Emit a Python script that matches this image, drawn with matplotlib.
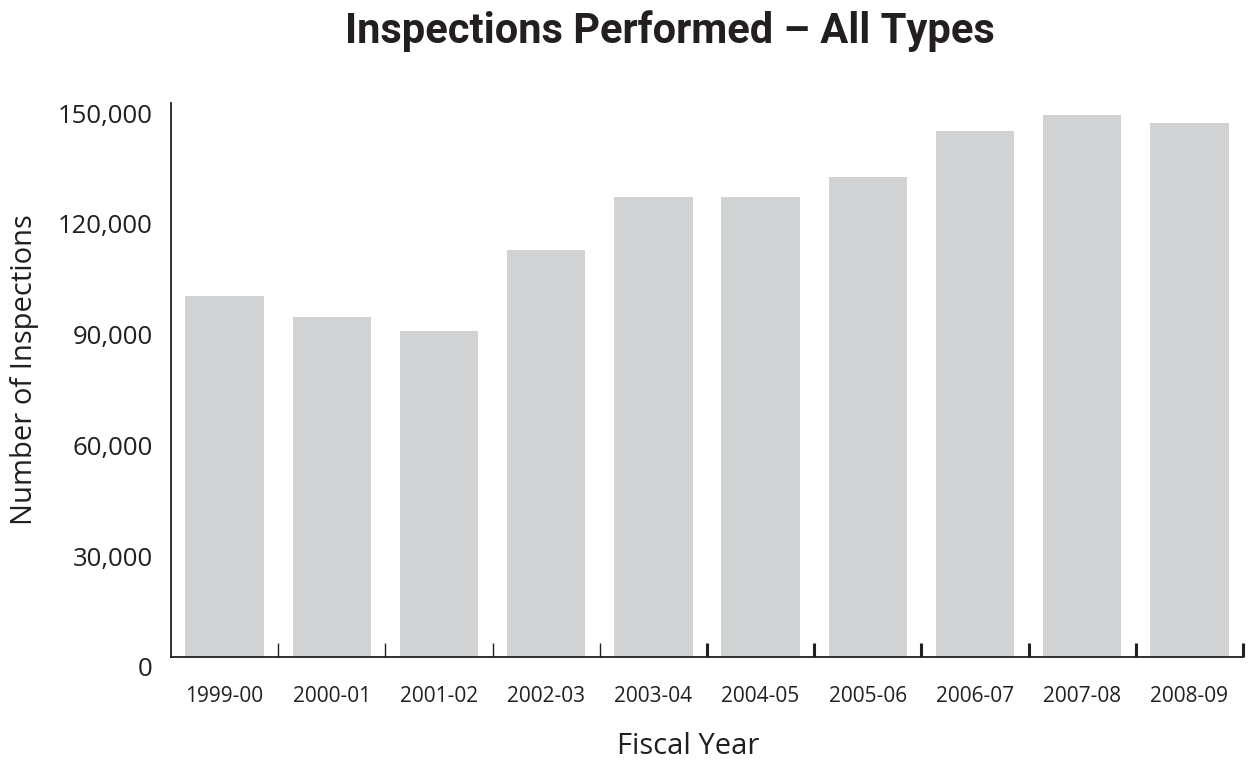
import matplotlib
matplotlib.use("Agg")
import matplotlib.pyplot as plt
import matplotlib.transforms as mtransforms
from matplotlib.ticker import FuncFormatter

years = ["1999-00", "2000-01", "2001-02", "2002-03", "2003-04",
         "2004-05", "2005-06", "2006-07", "2007-08", "2008-09"]
inspections = [97800, 92100, 88300, 110200, 124600,
               124600, 130000, 142400, 146800, 144600]
y_ticks = [0, 30000, 60000, 90000, 120000, 150000]

ink = "#231f20"
bar_color = "#d1d2d4"
body_font = ["Open Sans", "DejaVu Sans"]
title_font = ["Roboto", "DejaVu Sans"]

fig = plt.figure(figsize=(12.51, 7.63), dpi=100)
ax = fig.add_axes([171 / 1251, 106 / 763, (1243 - 171) / 1251, 554 / 763])

x = list(range(len(years)))
ax.bar(x, inspections, width=0.73, color=bar_color, zorder=2)

ax.set_xlim(-0.5, len(years) - 0.5)
ax.set_ylim(0, 150000)

for side in ("top", "right"):
    ax.spines[side].set_visible(False)
for side in ("left", "bottom"):
    ax.spines[side].set_color(ink)
    ax.spines[side].set_linewidth(1.3)

# Y axis: labels only, sitting slightly below their values
ax.set_yticks(y_ticks)
ax.yaxis.set_major_formatter(FuncFormatter(lambda v, p: f"{int(v):,}"))
ax.tick_params(axis="y", length=0, pad=13, labelsize=18.5, labelcolor=ink)
offset = mtransforms.ScaledTranslation(0, -10 / 100, fig.dpi_scale_trans)
for lbl in ax.get_yticklabels():
    lbl.set_transform(lbl.get_transform() + offset)
    lbl.set_fontfamily(body_font)

# X axis: category labels under bars, separator ticks between bars
ax.set_xticks(x)
ax.set_xticklabels(years, fontfamily=body_font)
ax.tick_params(axis="x", length=0, pad=21, labelsize=15, labelcolor=ink)
ax.set_xticks([i + 0.5 for i in x], minor=True)
ax.tick_params(axis="x", which="minor", direction="in", length=10,
               width=1.0, color=ink)
for i, tick in enumerate(ax.xaxis.get_minor_ticks()):
    if i >= 4:
        tick.tick1line.set_markeredgewidth(2.2)

ax.set_xlabel("Fiscal Year", fontsize=21, color=ink, fontfamily=body_font)
ax.xaxis.label.set_va("center")
ax.xaxis.set_label_coords((688 - 171) / (1243 - 171), (657 - 747) / 554)
ax.set_ylabel("Number of Inspections", fontsize=21, color=ink,
              fontfamily=body_font)
ax.yaxis.label.set_va("center")
ax.yaxis.set_label_coords((25 - 171) / (1243 - 171), (657 - 370) / 554)

fig.text(670 / 1251, 1 - 31 / 763, "Inspections Performed \u2013 All Types",
         ha="center", va="center", fontsize=30, fontweight="bold",
         color=ink, fontfamily=title_font)

fig.savefig("out.png", dpi=100, facecolor="white")
